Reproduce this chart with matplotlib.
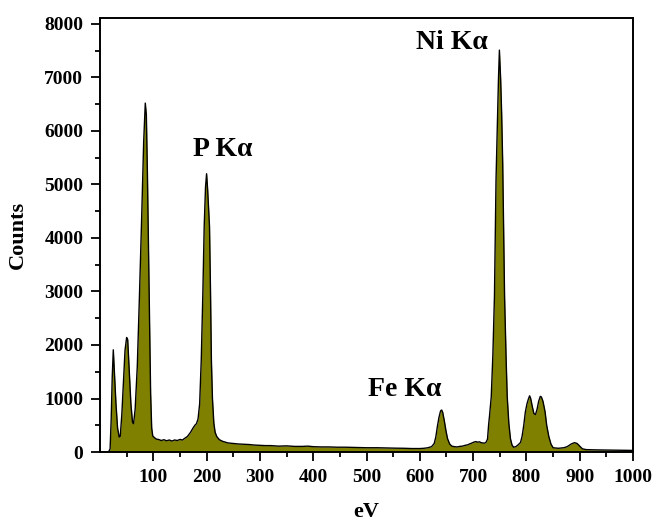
"""
EDS spectrum (counts vs eV) with olive filled area and labelled K-alpha peaks.
"""

import matplotlib
matplotlib.use("Agg")
import matplotlib.pyplot as plt
import numpy as np

# === Data ===
energy_ev = [
    0, 10, 16, 19, 21, 23, 25, 27, 30, 33, 36, 38, 41, 44, 47, 50, 52, 55, 58,
    61, 63, 66, 70, 74, 78, 82, 85, 87, 89, 91, 93, 95, 97, 99, 102, 106, 110,
    115, 120, 125, 130, 135, 140, 145, 150, 155, 158, 164, 170, 174, 178, 181,
    184, 187, 190, 193, 195.5, 198, 200, 202, 205.5, 207.4, 209, 211, 213.6,
    216, 219, 224, 230, 235, 240, 250, 260, 270, 280, 290, 300, 310, 320, 335,
    350, 365, 380, 390, 400, 415, 430, 445, 460, 480, 500, 520, 540, 555, 570,
    585, 600, 608, 615, 622, 627, 630, 633, 636, 639, 641, 643, 646, 649, 652,
    656, 660, 665, 670, 675, 680, 685, 690, 693, 697, 700, 705, 708, 712, 715,
    718, 721, 724, 727, 729, 731, 734, 737, 740, 743, 746, 747.5, 749.3, 751.7,
    753.5, 755.5, 759, 762, 764, 767, 770, 773, 776, 780, 784, 789, 792, 795,
    798, 801, 804, 806, 808, 811, 814, 817, 820, 823, 826, 828, 831, 835, 838,
    842, 846, 850, 855, 860, 865, 870, 875, 878, 884, 890, 895, 900, 905, 912,
    920, 930, 945, 960, 975, 990, 1000,
]
counts = [
    0, 0, 0, 60, 600, 1400, 1910, 1500, 900, 450, 280, 290, 700, 1300, 1900,
    2140, 2100, 1500, 900, 560, 530, 800, 1600, 2900, 4300, 5800, 6520, 6300,
    5200, 3800, 2400, 1100, 450, 300, 270, 240, 235, 215, 230, 210, 225, 205,
    225, 215, 235, 225, 250, 290, 370, 440, 500, 530, 620, 900, 1720, 2970,
    4210, 4950, 5200, 4900, 4210, 2970, 1720, 1000, 540, 370, 290, 230, 200,
    185, 170, 160, 150, 145, 140, 130, 125, 120, 120, 110, 115, 105, 105, 110,
    100, 95, 95, 90, 90, 85, 80, 80, 75, 72, 70, 65, 65, 70, 80, 100, 160, 280,
    480, 650, 770, 785, 740, 580, 400, 250, 150, 110, 100, 95, 105, 110, 125,
    135, 150, 165, 180, 195, 185, 190, 175, 170, 165, 180, 240, 500, 700, 1030,
    1800, 2900, 5100, 6330, 6950, 7510, 6950, 6330, 5396, 2903, 1700, 1030,
    536, 250, 130, 90, 100, 130, 180, 300, 500, 750, 900, 1000, 1050, 1000,
    850, 720, 700, 800, 950, 1040, 1030, 950, 750, 500, 290, 150, 80, 75, 70,
    75, 80, 95, 110, 150, 175, 160, 110, 60, 45, 42, 40, 38, 35, 33, 32, 30,
]

x_ticks = [100, 200, 300, 400, 500, 600, 700, 800, 900, 1000]
y_ticks = [0, 1000, 2000, 3000, 4000, 5000, 6000, 7000, 8000]

# peak labels: (text, x, y)
peak_labels = [
    ("P K\u03b1", 230, 5650),
    ("Fe K\u03b1", 571, 1160),
    ("Ni K\u03b1", 660, 7650),
]

FILL_COLOR = "#808000"

plt.rcParams["font.family"] = ["Liberation Serif", "DejaVu Serif"]
plt.rcParams["font.weight"] = "bold"


def main():
    x = np.array(energy_ev)
    y = np.array(counts)

    fig = plt.figure(figsize=(6.56, 5.25), dpi=100)
    ax = fig.add_axes([0.1524, 0.139, 0.8126, 0.8267])

    ax.fill_between(x, 0, y, color=FILL_COLOR, linewidth=0)
    ax.plot(x, y, color="black", linewidth=1.0)

    ax.set_xlim(0, 1000)
    ax.set_ylim(0, 8110)
    ax.set_xticks(x_ticks)
    ax.set_yticks(y_ticks)
    ax.set_xticks(np.arange(50, 1000, 100), minor=True)
    ax.set_yticks(np.arange(500, 8000, 1000), minor=True)

    ax.tick_params(which="both", direction="out", width=1.3, top=False, right=False)
    ax.tick_params(which="major", length=6.5, pad=5.5, labelsize=14)
    ax.tick_params(which="minor", length=3.5)
    for lab in ax.get_xticklabels() + ax.get_yticklabels():
        lab.set_fontweight("bold")
    for sp in ax.spines.values():
        sp.set_linewidth(1.4)

    ax.set_xlabel("eV", fontsize=16, fontweight="bold", labelpad=12)
    ax.set_ylabel("Counts", fontsize=16, fontweight="bold", labelpad=12)

    for text, tx, ty in peak_labels:
        ax.text(tx, ty, text, fontsize=20, fontweight="bold",
                ha="center", va="center")

    fig.savefig("out.png", dpi=100)


if __name__ == "__main__":
    main()
